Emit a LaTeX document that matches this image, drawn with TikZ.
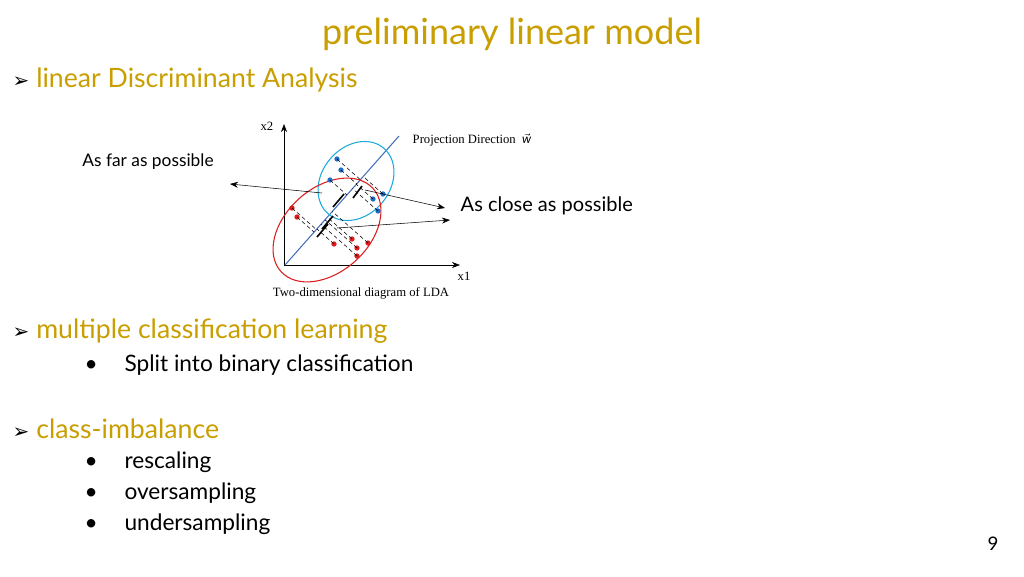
\documentclass[tikz,border=0pt]{standalone}
\usepackage{fontspec}
\setmainfont{Lato}
\newfontfamily\serifl{Liberation Serif}
\newfontfamily\djvfont{DejaVu Sans}
\usetikzlibrary{calc,arrows.meta}
\definecolor{gold}{RGB}{200,158,0}
\definecolor{bl}{RGB}{30,110,200}
\definecolor{cy}{RGB}{30,170,220}
\definecolor{rd}{RGB}{220,30,30}
\definecolor{pl}{RGB}{70,110,190}
\begin{document}
\begin{tikzpicture}[x=0.75pt,y=-0.75pt,
  head/.style={anchor=west,text=gold,font=\fontsize{20}{24}\selectfont},
  item/.style={anchor=west,font=\fontsize{17}{20}\selectfont},
  lbl/.style={font=\serifl\fontsize{9.5}{11}\selectfont},
  bdot/.style={circle,fill=bl,inner sep=1.4pt},
  rdot/.style={circle,fill=rd,inner sep=1.4pt},
  ar/.style={-{Stealth[length=6pt]},thin}]
\useasboundingbox (0,0) rectangle (1024,576);
\node (title) at (512,34) {\textcolor{gold}{\fontsize{27}{32}\selectfont preliminary linear model}};
\node (h1) [head] at (8,80) {{\djvfont\color{black}\fontsize{15}{18}\selectfont ➢} linear Discriminant Analysis};
\node (h2) [head] at (8,331) {{\djvfont\color{black}\fontsize{15}{18}\selectfont ➢} multiple classification learning};
\node (i1) [item] at (80,365) {•\hspace{20pt}Split into binary classification};
\node (h3) [head] at (8,429) {{\djvfont\color{black}\fontsize{15}{18}\selectfont ➢} class-imbalance};
\node (i2) [item] at (80,462) {•\hspace{20pt}rescaling};
\node (i3) [item] at (80,493) {•\hspace{20pt}oversampling};
\node (i4) [item] at (80,524) {•\hspace{20pt}undersampling};
\node (pg) at (993,544) {\fontsize{14}{16}\selectfont 9};
% diagram
\coordinate (O) at (284,265);
\coordinate (Y) at (284,124);
\coordinate (X) at (460,265);
\draw[ar] (O) -- (Y);
\draw[ar] (O) -- (X);
\node[lbl,anchor=east] (x2) at (278,126) {x2};
\node[lbl] (x1) at (464,276) {x1};
\node[lbl] (cap) at (361,293) {Two-dimensional diagram of LDA};
\coordinate (L1) at (285,265);
\coordinate (L2) at (399,136);
\draw[pl,thick] (L1) -- (L2);
\node[lbl,anchor=west] (pd) at (408,140) {Projection Direction \ $\vec{\mathit{w}}$};
\draw[cy,thick] (356,181) ellipse [x radius=34, y radius=43, rotate=-40];
\draw[rd,thick] (327,230) ellipse [x radius=42, y radius=62, rotate=-48];
\foreach \p in {(337,159),(341,170),(330,180),(383,194),(373,199),(378,211)}{
  \node[bdot] (b) at \p {};
  \draw[densely dashed,thin] (b.center) -- ($(L1)!(b.center)!(L2)$);
}
\foreach \p in {(292,208),(297,217),(334,244),(352,239),(368,243),(357,248),(357,256)}{
  \node[rdot] (r) at \p {};
  \draw[densely dashed,thin] (r.center) -- ($(L1)!(r.center)!(L2)$);
}
% brackets
\draw[very thick] (333,207) -- (344,194);
\draw[very thick] (353,198) -- (362,186);
\draw[very thick] (317,237) -- (328,224);
\draw[very thick] (322,229) -- (333,216);
\coordinate (f1) at (322,193);
\coordinate (f2) at (230,184);
\draw[ar] (f1) -- (f2);
\node (far) at (148,162) {\fontsize{13}{15}\selectfont As far as possible};
\coordinate (c1) at (365,190);
\coordinate (c2) at (445,208);
\draw[ar] (c1) -- (c2);
\coordinate (c3) at (337,228);
\coordinate (c4) at (450,220);
\draw[ar] (c3) -- (c4);
\node[anchor=west] (close) at (456,206) {\fontsize{15}{18}\selectfont As close as possible};
\end{tikzpicture}
\end{document}
